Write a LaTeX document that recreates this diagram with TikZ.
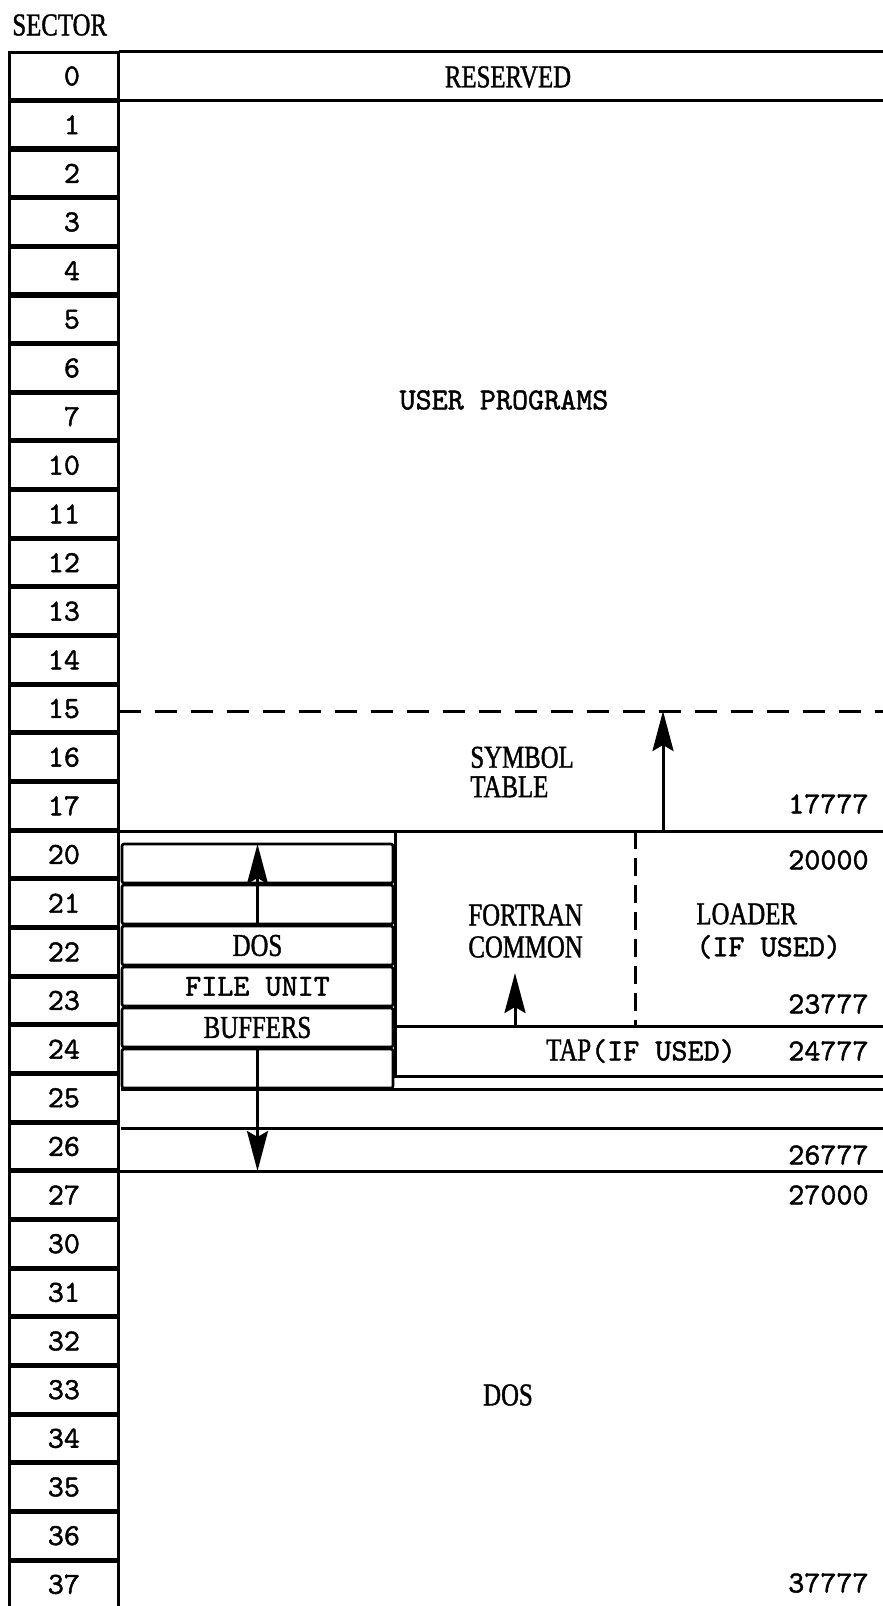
\documentclass[tikz,border=0pt]{standalone}
\usepackage{fontspec}
\usepackage{tikz}
\usetikzlibrary{arrows.meta, positioning}
\newfontfamily\condserif[FakeStretch=0.78, FakeBold=1.2]{Liberation Serif}
\newfontfamily\typew[FakeBold=1.4]{lmmono10-regular.otf}
\newcommand{\srffont}{\fontsize{15.9pt}{16pt}\condserif}
\newcommand{\ttffont}{\fontsize{15.3pt}{16pt}\typew}
\tikzstyle{secbox} = [rectangle, draw, line width=1.5pt,
minimum width=54.6pt, minimum height=23.3pt, inner sep=0pt, font=\ttffont]
\tikzstyle{bufbox} = [rectangle, draw, rounded corners=1pt, line width=1.3pt,
minimum width=135.5pt, minimum height=19.5pt, inner sep=0pt, outer sep=0pt,
font=\srffont]
\tikzstyle{memline} = [line width=1.5pt]
\tikzstyle{symlimit} = [line width=1.5pt, dash pattern=on 11pt off 7pt]
\tikzstyle{divline} = [line width=1.5pt, dash pattern=on 9pt off 4.5pt]
\tikzstyle{seriflbl} = [inner sep=0pt, font=\srffont]
\tikzstyle{ttlbl} = [inner sep=0pt, font=\ttffont]
\tikzstyle{addr} = [anchor=east, inner sep=0pt, font=\ttffont]
\tikzstyle{ptrarrow} = [-{Stealth[length=20pt, width=10.5pt, inset=3pt]}, line width=1.5pt]

\begin{document}
\begin{tikzpicture}[x=0.5pt, y=-0.5pt, node distance=1pt]
    \useasboundingbox (0,0) rectangle (883,1606);
    \node (sect) [seriflbl, anchor=west] at (12,25) {SECTOR};
    \foreach \lbl [count=\i from 0] in {0,1,2,3,4,5,6,7,10,11,12,13,14,15,16,17,
        20,21,22,23,24,25,26,27,30,31,32,33,34,35,36,37}
        \node (s\i) [secbox] at (63.9, {76.03+48.655*\i}) {\makebox[1.05em][r]{\lbl}};

    \draw[memline] (118.5,51.7) -- (883,51.7);
    \draw[memline] (118.5,51.7) -- (118.5,1606);
    \node (resv) [seriflbl] at (508,77) {RESERVED};
    \draw[memline] (118.5,100.4) -- (883,100.4);
    \node (user) [ttlbl] at (504,400) {USER PROGRAMS};

    \draw[symlimit] (118.5,711) -- (883,711);
    \coordinate (symtop) at (663,711);
    \node (symt) [seriflbl, anchor=west, align=left, font=\fontsize{15.9pt}{14.75pt}\condserif]
        at (470,772) {SYMBOL\\TABLE};
    \node (a17777) [addr] at (869,804) {17777};
    \draw[memline] (118.5,831) -- (883,831);
    \coordinate (symbot) at (663,831);
    \draw[ptrarrow] (symbot) -- (symtop);

    \node (bufa) [bufbox] at (257.5,863.5) {};
    \node (bufb) [bufbox, below=of bufa] {};
    \node (bufc) [bufbox, below=of bufb] {DOS};
    \node (bufd) [bufbox, below=of bufc, font=\ttffont] {FILE UNIT};
    \node (bufe) [bufbox, below=of bufd] {BUFFERS};
    \node (buff) [bufbox, below=of bufe] {};
    \draw[ptrarrow] (bufc.north) -- (bufa.north);

    \draw[memline] (395,831) -- (395,1076) -- (883,1076);
    \draw[memline] (395,1026.5) -- (883,1026.5);
    \draw[divline] (635,831) -- (635,1026.5);
    \node (fort) [seriflbl, anchor=west, align=left] at (468,931) {FORTRAN\\COMMON};
    \node (load) [ttlbl, anchor=west, align=left] at (696,931) {{\srffont LOADER}\\(IF USED)};
    \node (a20000) [addr] at (869,860) {20000};
    \node (a23777) [addr] at (869,1004) {23777};
    \coordinate (fortbase) at (515,1026.5);
    \coordinate (forttip) at (515,973);
    \draw[ptrarrow] (fortbase) -- (forttip);
    \node (tap) [ttlbl] at (641,1051) {{\srffont TAP}(IF USED)};
    \node (a24777) [addr] at (869,1051) {24777};

    \draw[memline] (121,1089.5) -- (883,1089.5);
    \draw[memline] (121,1128.5) -- (883,1128.5);
    \node (a26777) [addr] at (869,1155) {26777};
    \draw[memline] (118.5,1171) -- (883,1171);
    \coordinate (dostop) at (257.5,1171);
    \draw[ptrarrow] (bufe.south) -- (dostop);
    \node (a27000) [addr] at (869,1195) {27000};
    \node (dos) [seriflbl] at (508,1395) {DOS};
    \node (a37777) [addr] at (869,1583) {37777};
\end{tikzpicture}
\end{document}
